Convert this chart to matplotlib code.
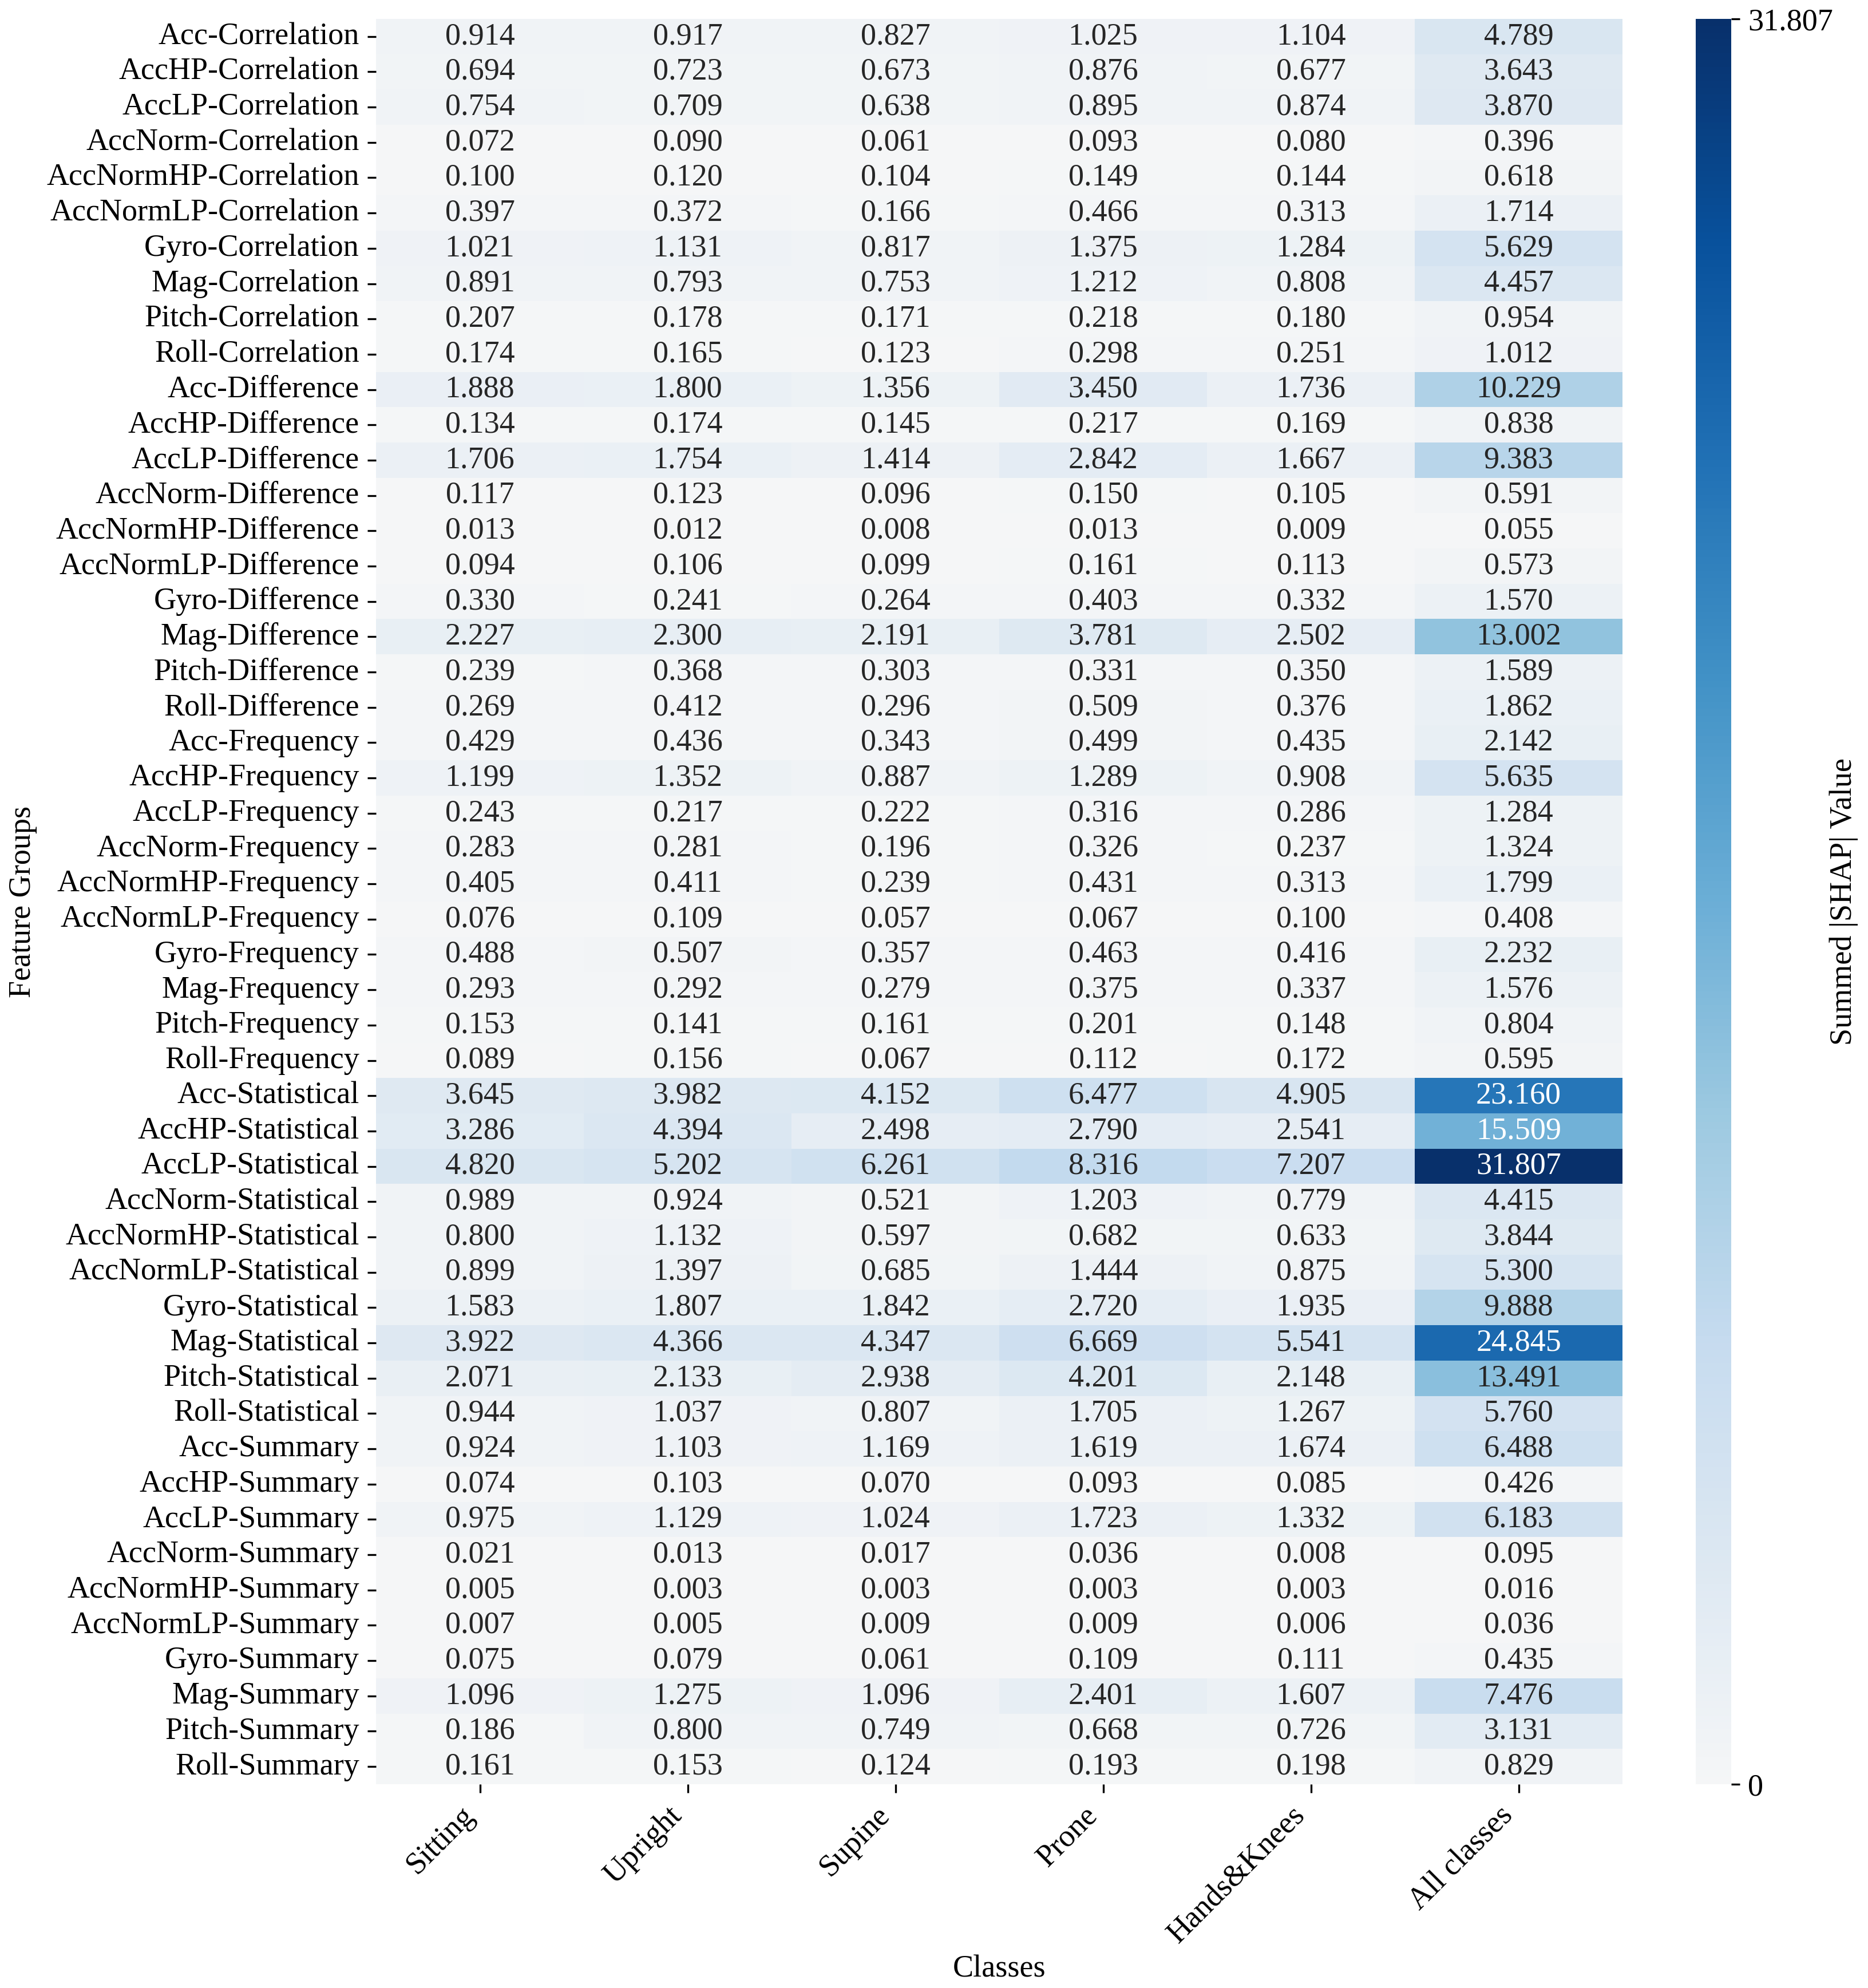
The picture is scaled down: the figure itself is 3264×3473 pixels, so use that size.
import numpy as np
import pandas as pd
import matplotlib
matplotlib.use('Agg')
import matplotlib.pyplot as plt
import seaborn as sns
from matplotlib.colors import LinearSegmentedColormap

# Данные: суммарные |SHAP| значения по группам признаков и классам
classes = ['Sitting', 'Upright', 'Supine', 'Prone', 'Hands&Knees', 'All classes']

features = [
    'Acc-Correlation', 'AccHP-Correlation', 'AccLP-Correlation',
    'AccNorm-Correlation', 'AccNormHP-Correlation', 'AccNormLP-Correlation',
    'Gyro-Correlation', 'Mag-Correlation', 'Pitch-Correlation', 'Roll-Correlation',
    'Acc-Difference', 'AccHP-Difference', 'AccLP-Difference',
    'AccNorm-Difference', 'AccNormHP-Difference', 'AccNormLP-Difference',
    'Gyro-Difference', 'Mag-Difference', 'Pitch-Difference', 'Roll-Difference',
    'Acc-Frequency', 'AccHP-Frequency', 'AccLP-Frequency',
    'AccNorm-Frequency', 'AccNormHP-Frequency', 'AccNormLP-Frequency',
    'Gyro-Frequency', 'Mag-Frequency', 'Pitch-Frequency', 'Roll-Frequency',
    'Acc-Statistical', 'AccHP-Statistical', 'AccLP-Statistical',
    'AccNorm-Statistical', 'AccNormHP-Statistical', 'AccNormLP-Statistical',
    'Gyro-Statistical', 'Mag-Statistical', 'Pitch-Statistical', 'Roll-Statistical',
    'Acc-Summary', 'AccHP-Summary', 'AccLP-Summary',
    'AccNorm-Summary', 'AccNormHP-Summary', 'AccNormLP-Summary',
    'Gyro-Summary', 'Mag-Summary', 'Pitch-Summary', 'Roll-Summary',
]

sitting = [0.914, 0.694, 0.754, 0.072, 0.100, 0.397, 1.021, 0.891, 0.207, 0.174,
           1.888, 0.134, 1.706, 0.117, 0.013, 0.094, 0.330, 2.227, 0.239, 0.269,
           0.429, 1.199, 0.243, 0.283, 0.405, 0.076, 0.488, 0.293, 0.153, 0.089,
           3.645, 3.286, 4.820, 0.989, 0.800, 0.899, 1.583, 3.922, 2.071, 0.944,
           0.924, 0.074, 0.975, 0.021, 0.005, 0.007, 0.075, 1.096, 0.186, 0.161]

upright = [0.917, 0.723, 0.709, 0.090, 0.120, 0.372, 1.131, 0.793, 0.178, 0.165,
           1.800, 0.174, 1.754, 0.123, 0.012, 0.106, 0.241, 2.300, 0.368, 0.412,
           0.436, 1.352, 0.217, 0.281, 0.411, 0.109, 0.507, 0.292, 0.141, 0.156,
           3.982, 4.394, 5.202, 0.924, 1.132, 1.397, 1.807, 4.366, 2.133, 1.037,
           1.103, 0.103, 1.129, 0.013, 0.003, 0.005, 0.079, 1.275, 0.800, 0.153]

supine = [0.827, 0.673, 0.638, 0.061, 0.104, 0.166, 0.817, 0.753, 0.171, 0.123,
          1.356, 0.145, 1.414, 0.096, 0.008, 0.099, 0.264, 2.191, 0.303, 0.296,
          0.343, 0.887, 0.222, 0.196, 0.239, 0.057, 0.357, 0.279, 0.161, 0.067,
          4.152, 2.498, 6.261, 0.521, 0.597, 0.685, 1.842, 4.347, 2.938, 0.807,
          1.169, 0.070, 1.024, 0.017, 0.003, 0.009, 0.061, 1.096, 0.749, 0.124]

prone = [1.025, 0.876, 0.895, 0.093, 0.149, 0.466, 1.375, 1.212, 0.218, 0.298,
         3.450, 0.217, 2.842, 0.150, 0.013, 0.161, 0.403, 3.781, 0.331, 0.509,
         0.499, 1.289, 0.316, 0.326, 0.431, 0.067, 0.463, 0.375, 0.201, 0.112,
         6.477, 2.790, 8.316, 1.203, 0.682, 1.444, 2.720, 6.669, 4.201, 1.705,
         1.619, 0.093, 1.723, 0.036, 0.003, 0.009, 0.109, 2.401, 0.668, 0.193]

hands_knees = [1.104, 0.677, 0.874, 0.080, 0.144, 0.313, 1.284, 0.808, 0.180, 0.251,
               1.736, 0.169, 1.667, 0.105, 0.009, 0.113, 0.332, 2.502, 0.350, 0.376,
               0.435, 0.908, 0.286, 0.237, 0.313, 0.100, 0.416, 0.337, 0.148, 0.172,
               4.905, 2.541, 7.207, 0.779, 0.633, 0.875, 1.935, 5.541, 2.148, 1.267,
               1.674, 0.085, 1.332, 0.008, 0.003, 0.006, 0.111, 1.607, 0.726, 0.198]

all_classes = [4.789, 3.643, 3.870, 0.396, 0.618, 1.714, 5.629, 4.457, 0.954, 1.012,
               10.229, 0.838, 9.383, 0.591, 0.055, 0.573, 1.570, 13.002, 1.589, 1.862,
               2.142, 5.635, 1.284, 1.324, 1.799, 0.408, 2.232, 1.576, 0.804, 0.595,
               23.160, 15.509, 31.807, 4.415, 3.844, 5.300, 9.888, 24.845, 13.491, 5.760,
               6.488, 0.426, 6.183, 0.095, 0.016, 0.036, 0.435, 7.476, 3.131, 0.829]

data = pd.DataFrame({
    classes[0]: sitting,
    classes[1]: upright,
    classes[2]: supine,
    classes[3]: prone,
    classes[4]: hands_knees,
    classes[5]: all_classes,
}, index=features)

vmax = data.values.max()

plt.rcParams['font.family'] = ['Liberation Serif', 'DejaVu Serif']
fs = 13

# Палитра: почти серый в начале, далее как Blues
cmap = LinearSegmentedColormap.from_list(
    'greyblues',
    ['#f5f6f7', '#dde8f2', '#c6dbef', '#9ecae1', '#6baed6',
     '#4292c6', '#2171b5', '#08519c', '#08306b'])

fig = plt.figure(figsize=(10.88, 11.577), dpi=300)
ax = fig.add_axes([0.2013, 0.1025, 0.8686 - 0.2013, 0.9905 - 0.1025])
cax = fig.add_axes([0.9078, 0.1025, 0.019, 0.9905 - 0.1025])

sns.heatmap(data, ax=ax, cbar_ax=cax, cmap=cmap, vmin=0, vmax=vmax,
            annot=True, fmt='.3f', annot_kws={'fontsize': fs})

ax.set_xlabel('Classes', fontsize=fs)
ax.set_ylabel('Feature Groups', fontsize=fs)
ax.set_xticklabels(ax.get_xticklabels(), rotation=45, ha='right', fontsize=fs)
ax.set_yticklabels(ax.get_yticklabels(), rotation=0, fontsize=fs)
ax.yaxis.set_label_coords(-0.272, 0.5)
ax.xaxis.set_label_coords(0.5, -0.0965)

cbar = ax.collections[0].colorbar
cbar.set_ticks([0, vmax])
cbar.set_ticklabels(['0', f'{vmax:.3f}'])
cbar.ax.tick_params(labelsize=fs)
cbar.outline.set_visible(False)
cbar.set_label('Summed |SHAP| Value', fontsize=fs)
cbar.ax.yaxis.set_label_coords(3.77, 0.5)

fig.savefig('out.png', dpi=300)
